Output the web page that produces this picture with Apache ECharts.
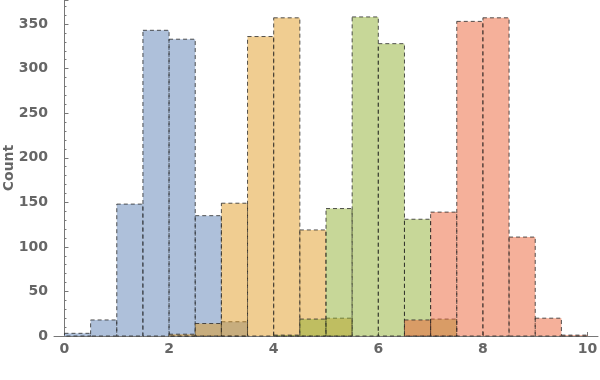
<!DOCTYPE html>
<html>
<head>
<meta charset="utf-8">
<script src="https://cdn.jsdelivr.net/npm/echarts@6/dist/echarts.min.js"></script>
<style>html,body{margin:0;padding:0;background:#fff}#c{width:600px;height:380px}</style>
</head>
<body>
<div id="c"></div>
<script>
// bin edges: each bin is 0.5 wide, listed by left edge
var binWidth = 0.5;
var blueBins   = [0, 0.5, 1, 1.5, 2, 2.5, 3];
var blueCounts = [3, 18, 148, 343, 333, 135, 16];
var orangeBins   = [2, 2.5, 3, 3.5, 4, 4.5, 5];
var orangeCounts = [2, 14, 149, 336, 357, 119, 20];
var greenBins   = [4, 4.5, 5, 5.5, 6, 6.5, 7];
var greenCounts = [1, 19, 143, 358, 328, 131, 19];
var redBins   = [6.5, 7, 7.5, 8, 8.5, 9, 9.5];
var redCounts = [18, 139, 353, 357, 111, 20, 1];
var xTicks = [0, 2, 4, 6, 8, 10];
var colors = ['rgba(94,129,181,0.5)', 'rgba(225,156,36,0.5)', 'rgba(143,176,50,0.5)', 'rgba(235,98,53,0.5)'];

function mk(bins, counts) {
  return bins.map(function (b, i) { return [b, b + binWidth, counts[i]]; });
}
function makeRender(fill) {
  return function (params, api) {
    var p0 = api.coord([api.value(0), 0]);
    var p1 = api.coord([api.value(1), api.value(2)]);
    return {
      type: 'rect',
      shape: { x: p0[0], y: p1[1], width: p1[0] - p0[0], height: p0[1] - p1[1] },
      style: {
        fill: fill,
        stroke: 'rgba(40,40,40,0.8)',
        lineWidth: 1,
        lineDash: [4, 3]
      }
    };
  };
}
function series(bins, counts, i) {
  return {
    type: 'custom',
    renderItem: makeRender(colors[i]),
    data: mk(bins, counts),
    encode: { x: [0, 1], y: 2 },
    itemStyle: { color: colors[i] },
    z: 2 + i
  };
}
var lbl = { color: '#666', fontWeight: 'bold', fontSize: 14, fontFamily: 'DejaVu Sans' };
var chart = echarts.init(document.getElementById('c'));
chart.setOption({
  animation: false,
  grid: { left: 54, right: 2, top: 0, bottom: 44, containLabel: false, outerBoundsMode: 'none' },
  xAxis: {
    type: 'value', min: -0.2, max: 10.2, interval: 2,
    axisLine: { onZero: false, lineStyle: { color: '#777' } },
    axisTick: { show: true, inside: true, length: 4, lineStyle: { color: '#777' }, customValues: xTicks },
    axisLabel: Object.assign({ margin: 6, customValues: xTicks,
      formatter: function (v) { return xTicks.indexOf(v) >= 0 ? String(v) : ''; } }, lbl),
    splitLine: { show: false }
  },
  yAxis: {
    type: 'value', min: 0, max: 377, interval: 50,
    name: 'Count', nameLocation: 'middle', nameGap: 38, nameRotate: 90,
    nameMoveOverlap: false,
    nameTextStyle: lbl,
    axisLine: { show: true, lineStyle: { color: '#777' } },
    axisTick: { show: true, inside: true, length: 4, lineStyle: { color: '#777' } },
    minorTick: { show: true, splitNumber: 5, length: 2, lineStyle: { color: '#777' } },
    axisLabel: Object.assign({ margin: 6,
      formatter: function (v) { return v % 50 === 0 ? String(v) : ''; } }, lbl),
    splitLine: { show: false }
  },
  series: [
    series(blueBins, blueCounts, 0),
    series(orangeBins, orangeCounts, 1),
    series(greenBins, greenCounts, 2),
    series(redBins, redCounts, 3)
  ]
});
</script>
</body>
</html>
